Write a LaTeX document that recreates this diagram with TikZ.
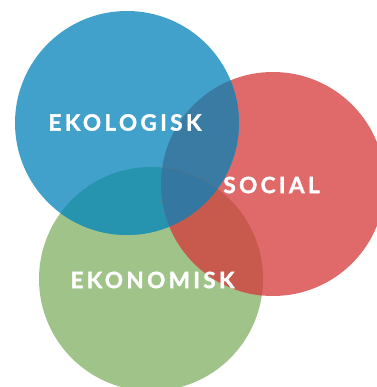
\documentclass[tikz,border=0pt]{standalone}
\usepackage{fontspec}
\setmainfont{Lato}
\usepackage{xcolor}
\usetikzlibrary{positioning}
\definecolor{ekoblue}{HTML}{42A1CB}
\definecolor{socred}{HTML}{E0696A}
\definecolor{ekngreen}{HTML}{A0C38A}
\definecolor{bluered}{HTML}{3A7BA4}
\definecolor{bluegreen}{HTML}{2693AF}
\definecolor{redgreen}{HTML}{C8594D}
\definecolor{allthree}{HTML}{3477A0}

\begin{document}
\begin{tikzpicture}[x=1pt, y=-1pt,
  ring/.style={circle, minimum size=224pt, inner sep=0pt},
  tag/.style={text=white, font=\fontsize{22.5}{22.5}\selectfont\bfseries\addfontfeature{LetterSpace=15,FakeBold=1.5}}]
\useasboundingbox (0,0) rectangle (376,387);
% the three circles
\node[ring, fill=ekngreen] (ekn) at (151,279) {};
\node[ring, fill=socred] (soc) at (273,184) {};
\node[ring, fill=ekoblue] (eko) at (127,123) {};
% pairwise overlaps
\begin{scope}
  \clip (eko.center) circle[radius=112pt];
  \fill[bluered] (soc.center) circle[radius=112pt];
  \fill[bluegreen] (ekn.center) circle[radius=112pt];
\end{scope}
\begin{scope}
  \clip (soc.center) circle[radius=112pt];
  \fill[redgreen] (ekn.center) circle[radius=112pt];
\end{scope}
% middle part
\begin{scope}
  \clip (eko.center) circle[radius=112pt];
  \clip (soc.center) circle[radius=112pt];
  \fill[allthree] (ekn.center) circle[radius=112pt];
\end{scope}
% labels
\node[tag] (ekolbl) at (125,122.5) {EKOLOGISK};
\node[tag] (soclbl) at (271.5,185) {SOCIAL};
\node[tag] (eknlbl) at (152.5,280) {EKONOMISK};
\end{tikzpicture}
\end{document}
